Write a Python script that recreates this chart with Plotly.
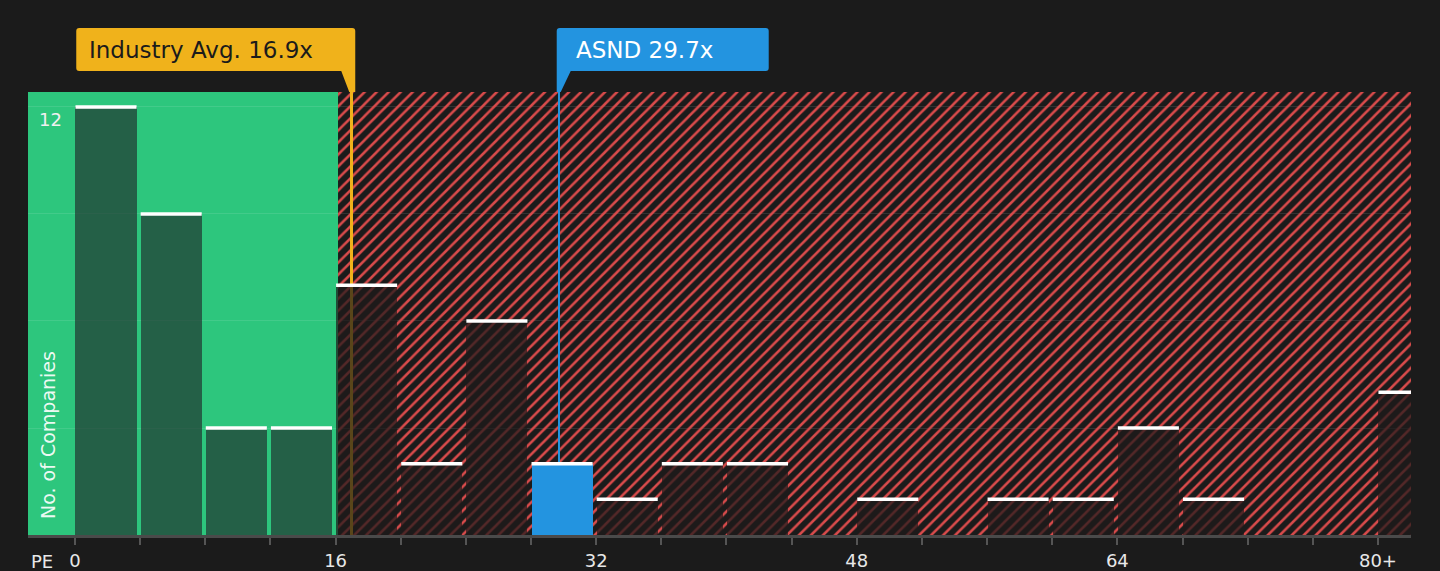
import plotly.graph_objects as go

# ---- data ----
bin_starts = [0, 4, 8, 12, 16, 20, 24, 28, 32, 36, 40, 44, 48, 52, 56, 60, 64, 68, 72, 76, 80]
counts     = [12, 9, 3, 3, 7, 2, 6, 2, 1, 2, 2, 0, 1, 0, 1, 1, 3, 1, 0, 0, 4]
industry_avg = 16.9
company_pe = 29.7
company_name = "ASND"
x_tick_vals = [0, 4, 8, 12, 16, 20, 24, 28, 32, 36, 40, 44, 48, 52, 56, 60, 64, 68, 72, 76, 80]
x_tick_text = ["0", "", "", "", "16", "", "", "", "32", "", "", "", "48", "", "", "", "64", "", "", "", "80+"]
y_tick_vals = [3, 6, 9, 12]
y_tick_text = ["", "", "", "12"]

# ---- style ----
BG = "#1b1b1b"
GREEN = "#2dc67d"
YELLOW = "#f0b21b"
BLUE = "#2394e0"
RED = "#d94b4b"
X_RANGE = [-2.886, 82.03]
Y_RANGE = [0, 12.42]
FAIR_EDGE = 16.15
BAR_W = 3.75
BAR_OFF = 0.03
PX_PER_UNIT = 1383 / (X_RANGE[1] - X_RANGE[0])
FONT = "DejaVu Sans"

fig = go.Figure()

# hatched "expensive" region
fig.add_trace(go.Bar(
    x=[(FAIR_EDGE + X_RANGE[1]) / 2], y=[Y_RANGE[1]], width=[X_RANGE[1] - FAIR_EDGE],
    marker=dict(color="rgba(0,0,0,0)", line=dict(width=0),
                pattern=dict(shape="/", fgcolor=RED, bgcolor="rgba(0,0,0,0)",
                             size=8.5, solidity=0.3, fillmode="replace")),
    hoverinfo="skip", showlegend=False))

# marker lines (inside plot) drawn over the hatch but under the bars
fig.add_trace(go.Bar(
    x=[industry_avg, company_pe], y=[Y_RANGE[1], Y_RANGE[1]],
    width=[2.5 / PX_PER_UNIT, 2 / PX_PER_UNIT], offset=[0, -1 / PX_PER_UNIT],
    marker=dict(color=[YELLOW, BLUE], line=dict(width=0)),
    hoverinfo="skip", showlegend=False))

# bars
colors = []
for s in bin_starts:
    if s <= company_pe < s + 4:
        colors.append(BLUE)
    elif s + 4 <= FAIR_EDGE:
        colors.append("rgba(33,47,45,0.68)")
    else:
        colors.append("rgba(30,27,27,0.72)")

fig.add_trace(go.Bar(
    x=bin_starts, y=counts, width=BAR_W, offset=BAR_OFF,
    marker=dict(color=colors, line=dict(width=0)),
    hoverinfo="skip", showlegend=False))

# white top lines
lx, ly = [], []
for s, c in zip(bin_starts, counts):
    if c > 0:
        lx += [s + BAR_OFF, s + BAR_OFF + BAR_W, None]
        ly += [c, c, None]
fig.add_trace(go.Scatter(x=lx, y=ly, mode="lines", line=dict(color="white", width=3.5),
                         hoverinfo="skip", showlegend=False, cliponaxis=True))

shapes = []
# green fair region
shapes.append(dict(type="rect", xref="x", yref="paper", x0=X_RANGE[0], x1=FAIR_EDGE, y0=0, y1=1,
                   fillcolor=GREEN, line=dict(width=0), layer="below"))
top_ext = 1 + 21 / 443
ind_line_x = industry_avg + 1.25 / PX_PER_UNIT
# marker lines above the plot area, up to the callouts
shapes.append(dict(type="line", xref="x", yref="paper", x0=ind_line_x, x1=ind_line_x, y0=1, y1=top_ext,
                   line=dict(color=YELLOW, width=2.5), layer="above"))
shapes.append(dict(type="line", xref="x", yref="paper", x0=company_pe, x1=company_pe, y0=1, y1=top_ext,
                   line=dict(color=BLUE, width=2), layer="above"))
# callout boxes
ind_path = ("M -271,64 L 2,64 Q 5,64 5,61 L 5,0 L -1,0 L -9,21 L -271,21 "
            "Q -274,21 -274,24 L -274,61 Q -274,64 -271,64 Z")
shapes.append(dict(type="path", xref="x", yref="paper", xsizemode="pixel", ysizemode="pixel",
                   xanchor=industry_avg, yanchor=1, path=ind_path,
                   fillcolor=YELLOW, line=dict(width=0), layer="above"))
asnd_path = ("M 1,64 L 207,64 Q 210,64 210,61 L 210,24 Q 210,21 207,21 L 12,21 L 2,0 L -2,0 "
             "L -2,61 Q -2,64 1,64 Z")
shapes.append(dict(type="path", xref="x", yref="paper", xsizemode="pixel", ysizemode="pixel",
                   xanchor=company_pe, yanchor=1, path=asnd_path,
                   fillcolor=BLUE, line=dict(width=0), layer="above"))

annotations = [
    dict(xref="x", yref="paper", x=industry_avg, y=1 + 42 / 443, xanchor="left", yanchor="middle",
         xshift=-263, text=f"Industry Avg. {industry_avg}x", showarrow=False,
         font=dict(family=FONT, size=23, color="#1b1b1b")),
    dict(xref="x", yref="paper", x=company_pe, y=1 + 42 / 443, xanchor="left", yanchor="middle",
         xshift=15, text=f"{company_name} {company_pe}x", showarrow=False,
         font=dict(family=FONT, size=23, color="white")),
    dict(xref="paper", yref="paper", x=20 / 1383, y=0, yshift=14, xanchor="center", yanchor="bottom",
         text="No. of Companies", textangle=-90, showarrow=False,
         font=dict(family=FONT, size=19, color="rgba(255,255,255,0.92)")),
    dict(xref="paper", yref="paper", x=14 / 1383, y=-26 / 443, xanchor="center", yanchor="middle",
         text="PE", showarrow=False, font=dict(family=FONT, size=18, color="#e8e8e8")),
]

fig.update_layout(
    width=1440, height=571,
    margin=dict(l=28, r=29, t=92, b=36, pad=0),
    paper_bgcolor=BG, plot_bgcolor=BG,
    barmode="overlay", bargap=0,
    shapes=shapes, annotations=annotations,
    font=dict(family=FONT, color="#e8e8e8"),
    xaxis=dict(range=X_RANGE, tickmode="array", tickvals=x_tick_vals, ticktext=x_tick_text,
               ticks="outside", ticklen=7, tickwidth=1.5, tickcolor="#555555",
               showline=True, linecolor="#4a4a4a", linewidth=2.5,
               showgrid=False, zeroline=False, ticklabelstandoff=1, automargin=False,
               tickfont=dict(family=FONT, size=18, color="#e8e8e8")),
    yaxis=dict(range=Y_RANGE, tickmode="array", tickvals=y_tick_vals, ticktext=y_tick_text,
               ticks="", showgrid=True, gridcolor="rgba(255,255,255,0.1)", gridwidth=1,
               zeroline=False, showline=False, ticklabelposition="inside bottom",
               ticklabelstandoff=8, automargin=False,
               tickfont=dict(family=FONT, size=18, color="#f0f0f0")),
)

fig.write_html("out.html", config={"displayModeBar": False},
               post_script="document.body.style.margin='0';document.body.style.background='#1b1b1b';")
